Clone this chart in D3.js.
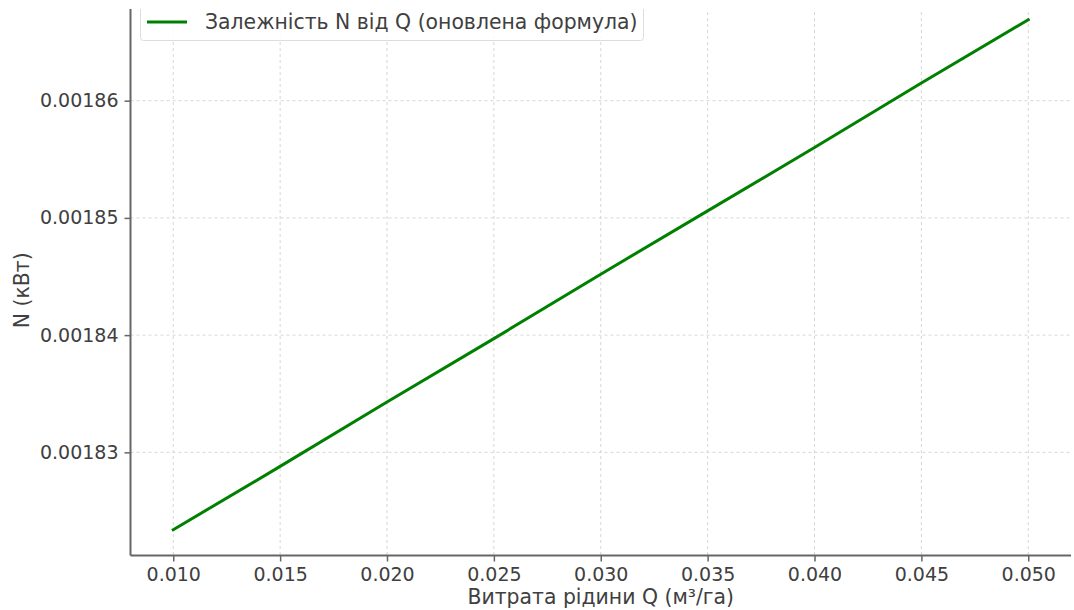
<!DOCTYPE html>
<html><head><meta charset="utf-8">
<script src="https://cdn.jsdelivr.net/npm/d3@7"></script>
<style>body{margin:0;background:#fff}svg{display:block}text{font-family:"DejaVu Sans",sans-serif}</style>
</head><body>
<svg id="c" width="1074" height="610"></svg>
<script>
const qValues = [0.010, 0.015, 0.020, 0.025, 0.030, 0.035, 0.040, 0.045, 0.050];
const nValues = [0.0018234, 0.0018288, 0.0018343, 0.0018397, 0.0018452, 0.0018506, 0.0018560, 0.0018615, 0.0018669];
const xTicks = [0.010, 0.015, 0.020, 0.025, 0.030, 0.035, 0.040, 0.045, 0.050];
const yTicks = [0.00183, 0.00184, 0.00185, 0.00186];
const seriesName = "Залежність N від Q (оновлена формула)";
const xLabel = "Витрата рідини Q (м³/га)";
const yLabel = "N (кВт)";

const svg = d3.select("#c");
const L = 130.5, R = 1071, T = -6, B = 555.5, visTop = 9;
const x = d3.scaleLinear().domain([0.008, 0.052]).range([L, R]);
const y = d3.scaleLinear().domain([0.0018212, 0.0018691]).range([B, T]);

const txt = "#404040", spine = "#666";
svg.append("clipPath").attr("id","vis").append("rect").attr("x",0).attr("y",visTop).attr("width",1074).attr("height",610);
const g = svg.append("g").attr("clip-path","url(#vis)");

// grid
g.append("g").selectAll("line").data(xTicks).join("line")
  .attr("x1",d=>x(d)).attr("x2",d=>x(d)).attr("y1",T).attr("y2",B)
  .attr("stroke","#d6d6d6").attr("stroke-width",1).attr("stroke-dasharray","3,3");
g.append("g").selectAll("line").data(yTicks).join("line")
  .attr("y1",d=>y(d)).attr("y2",d=>y(d)).attr("x1",L).attr("x2",R)
  .attr("stroke","#d6d6d6").attr("stroke-width",1).attr("stroke-dasharray","3,3");

// line
const pts = qValues.map((q,i)=>[q,nValues[i]]);
g.append("path").datum(pts)
  .attr("d", d3.line().x(d=>x(d[0])).y(d=>y(d[1])))
  .attr("fill","none").attr("stroke","#008000").attr("stroke-width",3).attr("stroke-linecap","square");

// axes
const xa = svg.append("g").attr("transform",`translate(0,${B})`)
  .call(d3.axisBottom(x).tickValues(xTicks).tickFormat(d3.format(".3f")).tickSize(6).tickPadding(6));
const ya = svg.append("g").attr("transform",`translate(${L},0)`)
  .call(d3.axisLeft(y).tickValues(yTicks).tickFormat(d3.format(".5f")).tickSize(6).tickPadding(6));
[xa, ya].forEach(a=>{
  a.select(".domain").remove();
  a.selectAll(".tick line").attr("stroke",spine).attr("stroke-width",1.5);
  a.selectAll(".tick text").attr("fill",txt).style("font-size","19px").style("font-family","DejaVu Sans");
});
svg.append("line").attr("x1",L).attr("x2",L).attr("y1",visTop).attr("y2",B).attr("stroke",spine).attr("stroke-width",2);
svg.append("line").attr("x1",L).attr("x2",R).attr("y1",B).attr("y2",B).attr("stroke",spine).attr("stroke-width",2);

// labels
svg.append("text").attr("x",(L+R)/2).attr("y",604).attr("text-anchor","middle")
  .attr("fill",txt).style("font-size","20.4px").text(xLabel);
svg.append("text").attr("transform",`translate(29,${(visTop+B)/2+8}) rotate(-90)`).attr("text-anchor","middle")
  .attr("fill",txt).style("font-size","20.4px").text(yLabel);

// legend
const lg = svg.append("g").attr("clip-path","url(#vis)");
lg.append("rect").attr("x",140.5).attr("y",2).attr("width",503).attr("height",38.5).attr("rx",3)
  .attr("fill","#fff").attr("fill-opacity",0.85).attr("stroke","#ddd").attr("stroke-width",1);
lg.append("line").attr("x1",147).attr("x2",187).attr("y1",22).attr("y2",22).attr("stroke","#008000").attr("stroke-width",3);
lg.append("text").attr("x",205).attr("y",29).attr("fill",txt).style("font-size","20.4px").text(seriesName);
</script>
</body></html>
